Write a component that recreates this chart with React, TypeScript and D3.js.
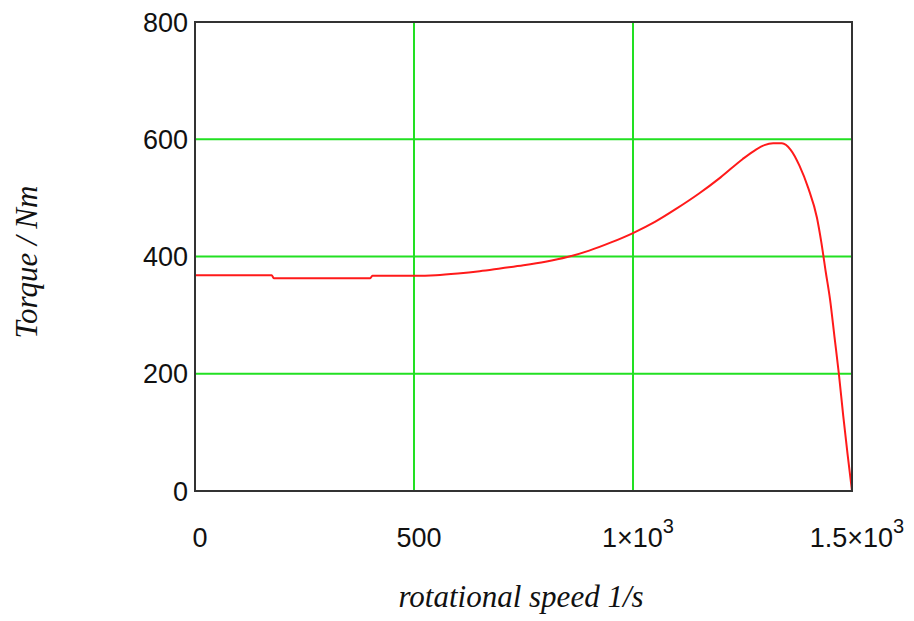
import React from "react";
import * as d3 from "d3";

const speed = [0, 100, 175, 180, 300, 400, 405, 500, 550, 600, 650, 700, 750, 800, 850, 900, 950, 1000, 1050, 1100, 1150, 1200, 1250, 1280, 1300, 1320, 1340, 1360, 1380, 1400, 1420, 1430, 1440, 1450, 1460, 1470, 1480, 1490, 1500];
const torque = [368, 368, 368, 363, 363, 363, 367, 367, 368, 371, 375, 380, 385, 391, 399, 410, 424, 440, 459, 482, 507, 535, 566, 582, 590, 593, 593, 582, 555, 517, 466, 424, 374, 326, 263, 200, 128, 62, 0];

const xTicks = [0, 500, 1000, 1500];
const xTickBase = ["0", "500", "1\u00d710", "1.5\u00d710"];
const xTickSup = ["", "", "3", "3"];
const yTicks = [0, 200, 400, 600, 800];

const xTitle = "rotational speed 1/s";
const yTitle = "Torque / Nm";

export default function App() {
  const W = 914, H = 621;
  const left = 195, right = 852, top = 22, bottom = 491;
  const x = d3.scaleLinear().domain([0, 1500]).range([left, right]);
  const y = d3.scaleLinear().domain([0, 800]).range([bottom, top]);
  const line = d3
    .line<number>()
    .x((_, i) => x(speed[i]))
    .y((d) => y(d))
    .curve(d3.curveMonotoneX);
  const path = line(torque) || "";
  const tickFont = "'Liberation Sans', Arial, sans-serif";
  const titleFont = "'Liberation Serif', 'Times New Roman', serif";
  return (
    <svg width={W} height={H} style={{ position: "absolute", left: 0, top: 0, background: "#fff" }}>
      <rect x={0} y={0} width={W} height={H} fill="#fff" />
      {xTicks.slice(1, -1).map((t) => (
        <line key={"gx" + t} x1={x(t)} x2={x(t)} y1={top} y2={bottom} stroke="#22e022" strokeWidth={2} />
      ))}
      {yTicks.slice(1, -1).map((t) => (
        <line key={"gy" + t} x1={left} x2={right} y1={y(t)} y2={y(t)} stroke="#22e022" strokeWidth={2} />
      ))}
      <path d={path} fill="none" stroke="#ff1a1a" strokeWidth={2} />
      <rect x={left} y={top} width={right - left} height={bottom - top} fill="none" stroke="#333" strokeWidth={2} />
      {yTicks.map((t) => (
        <text key={"yt" + t} x={left - 7} y={y(t)} dy="0.36em" textAnchor="end" fontFamily={tickFont} fontSize={27} fill="#111">
          {t}
        </text>
      ))}
      {xTicks.map((t, i) => (
        <text key={"xt" + t} x={x(t) + 5} y={547} textAnchor="middle" fontFamily={tickFont} fontSize={27} fill="#111">
          {xTickBase[i]}
          {xTickSup[i] ? (
            <tspan dy={-14} fontSize={20}>{xTickSup[i]}</tspan>
          ) : null}
        </text>
      ))}
      <text x={521} y={607} textAnchor="middle" fontFamily={titleFont} fontStyle="italic" fontSize={31} fill="#111">
        {xTitle}
      </text>
      <text transform="translate(37,262) rotate(-90)" textAnchor="middle" fontFamily={titleFont} fontStyle="italic" fontSize={31} fill="#111">
        {yTitle}
      </text>
    </svg>
  );
}
